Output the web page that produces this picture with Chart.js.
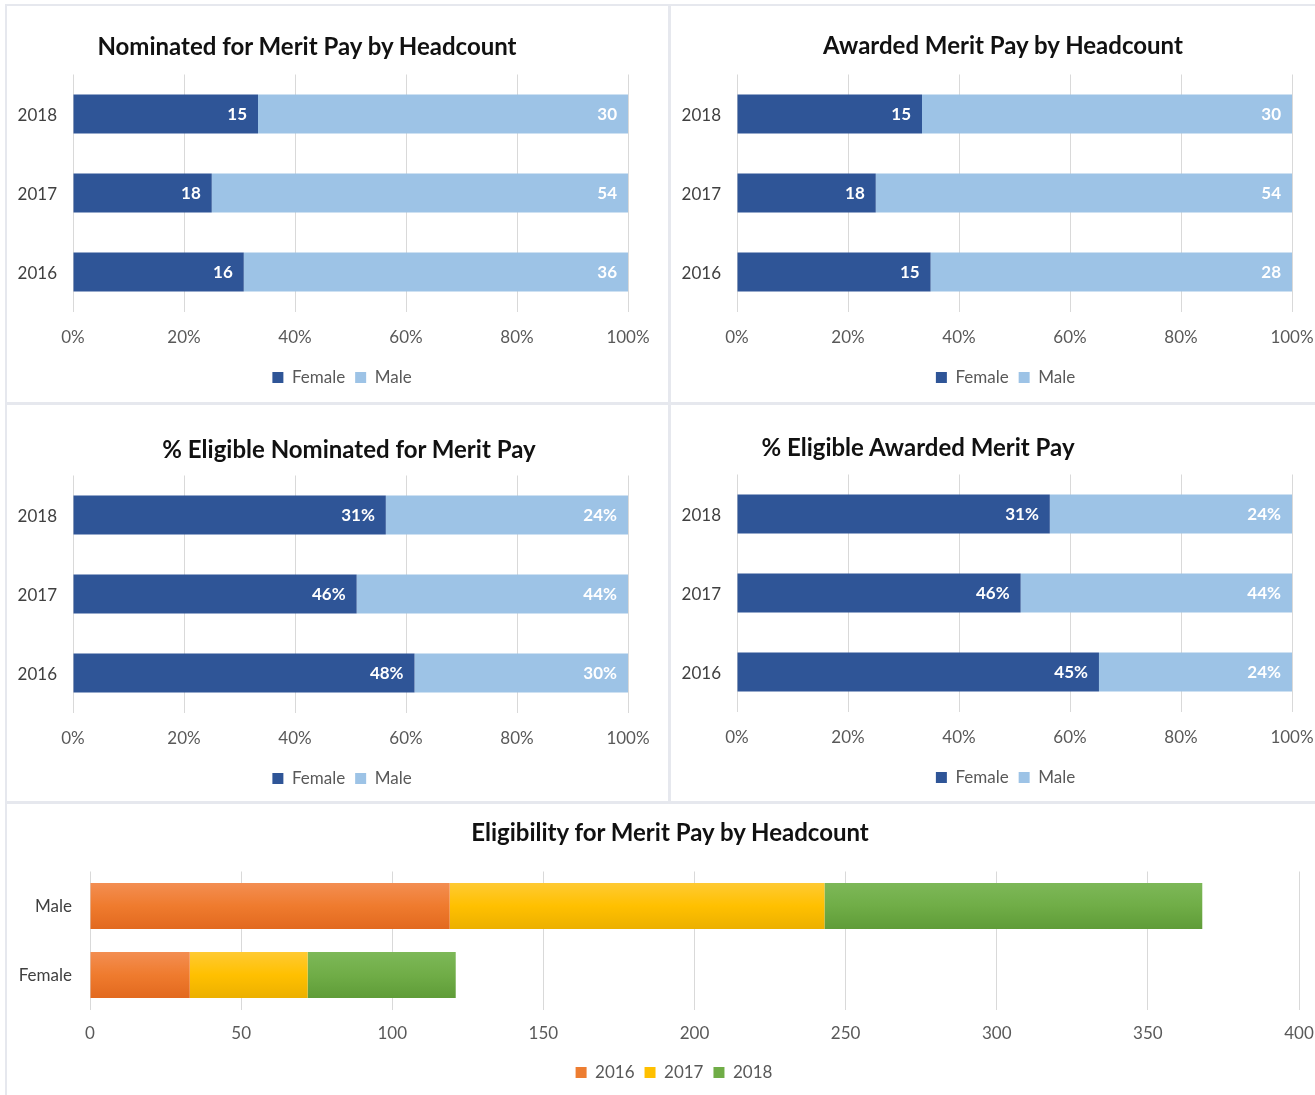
<!DOCTYPE html>
<html>
<head>
<meta charset="utf-8">
<script src="https://cdn.jsdelivr.net/npm/chart.js@4.4.1/dist/chart.umd.min.js"></script>
<style>
  body { margin: 0; width: 1315px; height: 1095px; overflow: hidden; background: #fff; position: relative; font-family: Lato, "Open Sans", sans-serif; }
  .panel { position: absolute; border: 2px solid #e6e8ee; box-sizing: border-box; }
  canvas { position: absolute; }
  .title { position: absolute; width: 600px; text-align: center; font-weight: bold; font-size: 24px; line-height: 28px; color: #111; white-space: nowrap; }
</style>
</head>
<body>
<div class="panel" style="left:5px;top:4px;width:665px;height:400px"></div>
<div class="panel" style="left:669px;top:4px;width:670px;height:400px"></div>
<div class="panel" style="left:5px;top:403px;width:665px;height:400px"></div>
<div class="panel" style="left:669px;top:403px;width:670px;height:400px"></div>
<div class="panel" style="left:5px;top:802px;width:1340px;height:320px"></div>

<canvas id="nominatedCount" width="662" height="398" style="left:6px;top:5px"></canvas>
<canvas id="awardedCount" width="668" height="398" style="left:671px;top:5px"></canvas>
<canvas id="nominatedPct" width="662" height="398" style="left:6px;top:406px"></canvas>
<canvas id="awardedPct" width="668" height="398" style="left:671px;top:405px"></canvas>
<canvas id="eligibility" width="1340" height="300" style="left:7px;top:805px"></canvas>

<div class="title" style="left:7px;top:32px">Nominated for Merit Pay by Headcount</div>
<div class="title" style="left:703px;top:31px">Awarded Merit Pay by Headcount</div>
<div class="title" style="left:49px;top:435px">% Eligible Nominated for Merit Pay</div>
<div class="title" style="left:618px;top:433px">% Eligible Awarded Merit Pay</div>
<div class="title" style="left:370px;top:818px">Eligibility for Merit Pay by Headcount</div>

<script>
const years = ['2018', '2017', '2016'];

const nominatedFemale = [15, 18, 16];
const nominatedMale = [30, 54, 36];
const awardedFemale = [15, 18, 15];
const awardedMale = [30, 54, 28];

const pctNominatedFemale = [31, 46, 48];
const pctNominatedMale = [24, 44, 30];
const pctAwardedFemale = [31, 46, 45];
const pctAwardedMale = [24, 44, 24];

const shareTicks = [0, 20, 40, 60, 80, 100];

const genders = ['Male', 'Female'];
const eligible2016 = [119, 33];
const eligible2017 = [124, 39];
const eligible2018 = [125, 49];
const headcountTicks = [0, 50, 100, 150, 200, 250, 300, 350, 400];

const FONT = 'Lato, "Open Sans", sans-serif';
const FEMALE_BLUE = '#2f5597';
const MALE_BLUE = '#9dc3e6';

// white value text at the inner end of each bar segment
const barValueLabels = {
  id: 'barValueLabels',
  afterDatasetsDraw(chart) {
    const ctx = chart.ctx;
    ctx.save();
    ctx.font = 'bold 17px ' + FONT;
    ctx.fillStyle = '#ffffff';
    ctx.textAlign = 'right';
    ctx.textBaseline = 'middle';
    chart.data.datasets.forEach((ds, i) => {
      if (!ds.valueLabels) return;
      chart.getDatasetMeta(i).data.forEach((bar, j) => {
        ctx.fillText(ds.valueLabels[j], bar.x - 11, bar.y + 1);
      });
    });
    ctx.restore();
  }
};

// nudge the legend sideways after layout (it sits a bit right of the canvas centre)
const legendShift = {
  id: 'legendShift',
  afterLayout(chart, args, opts) {
    const legend = chart.legend;
    if (!legend || !opts.dx) return;
    legend.left += opts.dx;
    legend.right += opts.dx;
  }
};

function shareOf(part, other) {
  return part.map((v, i) => v / (v + other[i]) * 100);
}

function fixedTicks(list) {
  return scale => { scale.ticks = list.map(v => ({ value: v })); };
}

function makeShareChart(id, female, male, suffix, axisWidth, padRight, legendDx) {
  new Chart(document.getElementById(id), {
    type: 'bar',
    data: {
      labels: years,
      datasets: [
        { label: 'Female', data: shareOf(female, male), valueLabels: female.map(v => v + suffix), backgroundColor: FEMALE_BLUE },
        { label: 'Male', data: shareOf(male, female), valueLabels: male.map(v => v + suffix), backgroundColor: MALE_BLUE }
      ]
    },
    options: {
      indexAxis: 'y',
      responsive: false,
      animation: false,
      barPercentage: 0.494,
      categoryPercentage: 1,
      layout: { padding: { top: 69.5, right: padRight, bottom: 7, left: 0 } },
      scales: {
        x: {
          stacked: true,
          min: 0,
          max: 100,
          afterBuildTicks: fixedTicks(shareTicks),
          afterFit: s => { s.height = 47.5; },
          grid: { color: '#d9d9d9', drawTicks: false },
          border: { display: false },
          ticks: { padding: 16, color: '#595959', font: { family: FONT, size: 17 }, callback: v => v + '%' }
        },
        y: {
          stacked: true,
          afterFit: s => { s.width = axisWidth; },
          grid: { display: false, drawTicks: false },
          border: { display: false },
          ticks: { padding: 16, labelOffset: 2, color: '#404040', font: { family: FONT, size: 17 } }
        }
      },
      plugins: {
        legend: {
          position: 'bottom',
          labels: { boxWidth: 11, boxHeight: 11, color: '#595959', font: { family: FONT, size: 17 } }
        },
        legendShift: { dx: legendDx },
        tooltip: { enabled: false }
      }
    },
    plugins: [barValueLabels, legendShift]
  });
}

makeShareChart('nominatedCount', nominatedFemale, nominatedMale, '', 67, 40, 25);
makeShareChart('awardedCount', awardedFemale, awardedMale, '', 66, 47, 24);
makeShareChart('nominatedPct', pctNominatedFemale, pctNominatedMale, '%', 67, 40, 25);
makeShareChart('awardedPct', pctAwardedFemale, pctAwardedMale, '%', 66, 47, 24);

// eligibility bars get a soft top-to-bottom shade
const ELIGIBLE_BAR_PCT = 0.667;
function shadedFill(top, mid, bottom) {
  return ctx => {
    const chart = ctx.chart;
    const y = chart.scales.y;
    if (!chart.chartArea || !y || ctx.type !== 'data') return mid;
    const center = y.getPixelForValue(ctx.dataIndex);
    const half = y.height / genders.length * ELIGIBLE_BAR_PCT / 2;
    const g = chart.ctx.createLinearGradient(0, center - half, 0, center + half);
    g.addColorStop(0, top);
    g.addColorStop(0.5, mid);
    g.addColorStop(1, bottom);
    return g;
  };
}

new Chart(document.getElementById('eligibility'), {
  type: 'bar',
  data: {
    labels: genders,
    datasets: [
      { label: '2016', data: eligible2016, legendColor: '#ed7d31', backgroundColor: shadedFill('#f38e52', '#ef7b2e', '#e2691f') },
      { label: '2017', data: eligible2017, legendColor: '#ffc000', backgroundColor: shadedFill('#ffca33', '#ffc000', '#ecb000') },
      { label: '2018', data: eligible2018, legendColor: '#70ad47', backgroundColor: shadedFill('#7db858', '#70ad47', '#5f9c38') }
    ]
  },
  options: {
    indexAxis: 'y',
    responsive: false,
    animation: false,
    barPercentage: ELIGIBLE_BAR_PCT,
    categoryPercentage: 1,
    layout: { padding: { top: 66.5, right: 48, bottom: 14, left: 0 } },
    scales: {
      x: {
        stacked: true,
        min: 0,
        max: 400,
        afterBuildTicks: fixedTicks(headcountTicks),
        afterFit: s => { s.height = 44.5; },
        grid: { color: '#d9d9d9', drawTicks: false },
        border: { display: false },
        ticks: { padding: 14, color: '#595959', font: { family: FONT, size: 17 } }
      },
      y: {
        stacked: true,
        afterFit: s => { s.width = 83; },
        grid: { display: false, drawTicks: false },
        border: { display: false },
        ticks: { padding: 18, labelOffset: 1, color: '#404040', font: { family: FONT, size: 17 } }
      }
    },
    plugins: {
      legend: {
        position: 'bottom',
        labels: {
          boxWidth: 11,
          boxHeight: 11,
          color: '#595959',
          font: { family: FONT, size: 17 },
          generateLabels: chart => Chart.defaults.plugins.legend.labels.generateLabels(chart).map(item => {
            const c = chart.data.datasets[item.datasetIndex].legendColor;
            return Object.assign(item, { fillStyle: c, strokeStyle: c });
          })
        }
      },
      legendShift: { dx: 21 },
      tooltip: { enabled: false }
    }
  },
  plugins: [legendShift]
});
</script>
</body>
</html>
